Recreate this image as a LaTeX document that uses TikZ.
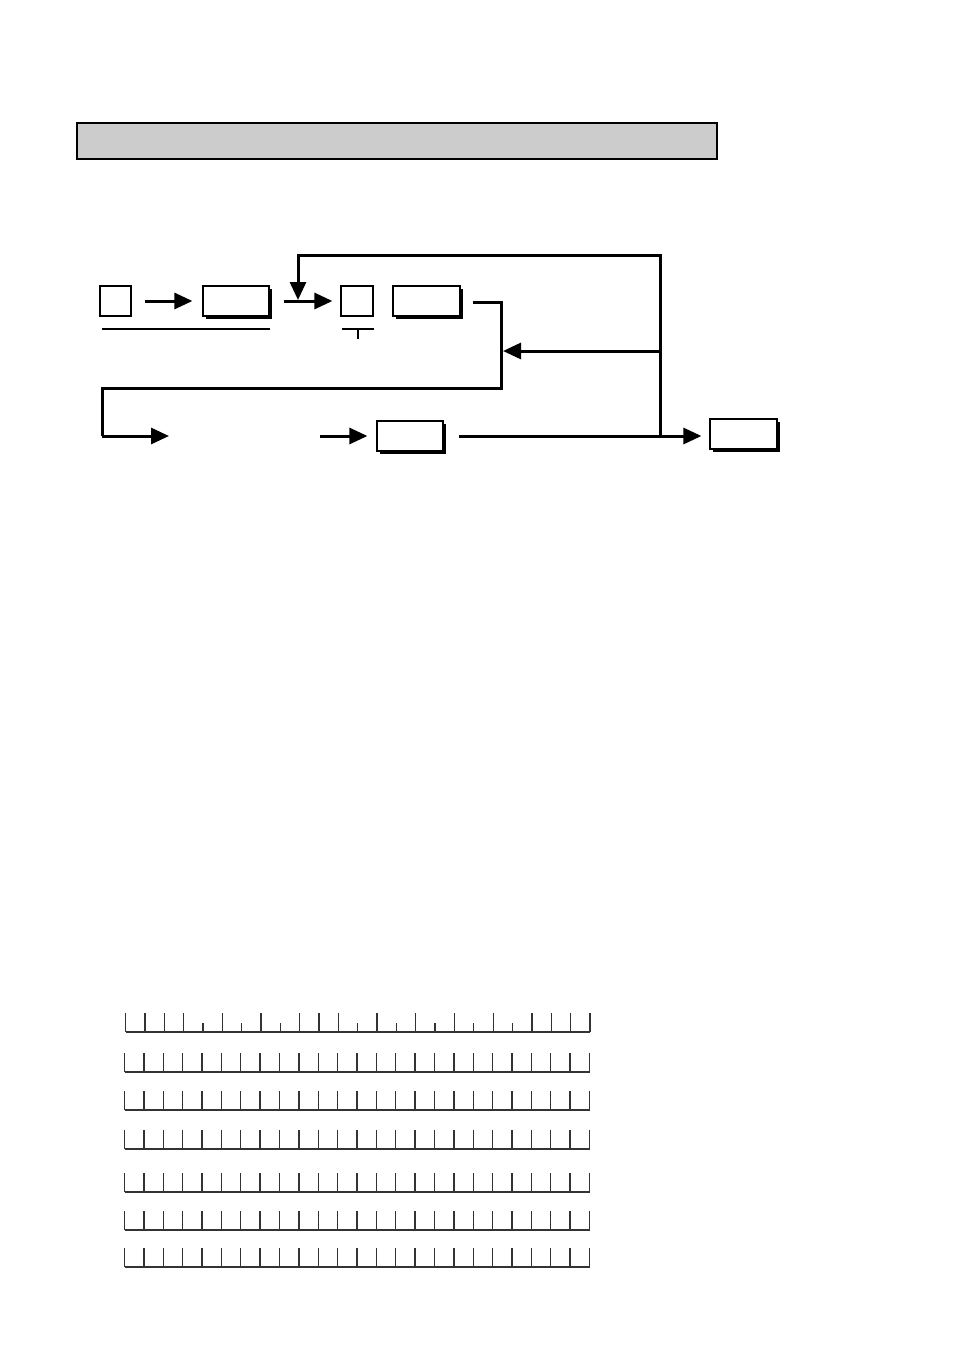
\documentclass[tikz,border=0pt]{standalone}
\usepackage{amsmath}
\usepackage{amssymb}
\usepackage{tikz}
\usetikzlibrary{arrows.meta,shadows}

\begin{document}
\begin{tikzpicture}[x=1pt,y=-1pt]
        \tikzstyle{keybox} = [draw,fill=white,line width=1.2pt,inner sep=0pt,minimum width=31pt,minimum height=30pt]
        \tikzstyle{widebox} = [keybox,minimum width=66pt,drop shadow={shadow xshift=2.5pt,shadow yshift=-2.5pt,fill=black,opacity=1}]
        \tikzstyle{wire} = [line width=3pt]
        \tikzstyle{conn} = [wire,-{Triangle[length=18pt,width=16pt]}]
        \tikzstyle{tick} = [black!80,line width=1.3pt]
        \useasboundingbox (0,0) rectangle (954,1351);
        % title bar
        \node[draw,fill=black!20,line width=1.4pt,minimum width=640pt,minimum height=36pt,inner sep=0pt] (title) at (397,141) {};
        % first row
        \node[keybox] (a) at (115.5,301) {};
        \node[widebox] (b) at (236,301) {};
        \node[keybox,minimum width=32pt] (c) at (357,301) {};
        \node[widebox,minimum width=67pt] (d) at (426.5,301) {};
        \draw[conn,shorten <=13pt,shorten >=10pt] (a) -- (b);
        \draw[conn,shorten <=14pt,shorten >=8pt] (b) -- (c);
        \draw[line width=2pt] (102,329) -- (270,329);
        \draw[line width=2pt] (342,329) -- (374,329) (358,329) -- (358,339);
        % loop back and second row
        \node[widebox] (e) at (410,436) {};
        \node[widebox,minimum width=67pt] (f) at (743.5,434) {};
        \coordinate (join) at (298,300);
        \coordinate (turn) at (501,302);
        \coordinate (back) at (501,351);
        \coordinate (low) at (102,388);
        \coordinate (land) at (169,436);
        \coordinate (feed) at (320,436);
        \coordinate (fork) at (660,351);
        \coordinate (split) at (660,436);
        \draw[wire,shorten <=12pt] (d.east |- turn) -- (turn) |- (low) -- (low |- land);
        \draw[conn] (low |- land) -- (land);
        \draw[conn,shorten >=9pt] (feed) -- (e);
        \draw[wire,shorten <=15pt] (e.east |- split) -- (split);
        \draw[conn,shorten >=8pt] (split) -- (f.west |- split);
        \draw[conn] (fork) -- ([xshift=2pt]back);
        \draw[conn] (split) -- (660,255) -| (join);
        % entry rows
        \foreach \y in {1072,1110,1149,1192,1230,1267}{
          \draw[tick] (124.5,\y) -- (589.5,\y);
          \foreach \i in {0,...,24}
            \draw[tick] (124.5+\i*19.375,\y) -- ++(0,-19);
        }
        \draw[tick] (125.5,1032) -- (590,1032);
        \foreach \i in {0,1,2,3,5,7,9,10,11,13,15,17,19,21,22,23,24}
          \draw[tick] (125.5+\i*19.35,1032) -- ++(0,-19);
        \foreach \i in {4,6,8,12,14,16,18,20}
          \draw[tick] (125.5+\i*19.35,1032) -- ++(0,-9);
      \end{tikzpicture}
\end{document}
